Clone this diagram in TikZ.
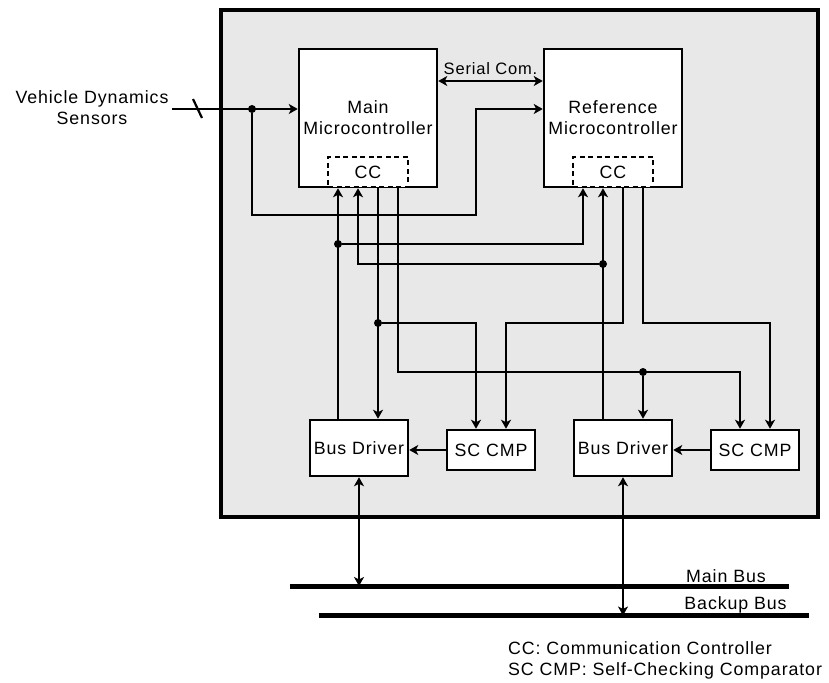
\documentclass[tikz,border=0pt]{standalone}
\usepackage{fontspec}
\setmainfont{Liberation Sans}[LetterSpace=5]
\usepackage{xcolor}
\usetikzlibrary{arrows.meta,calc}
\definecolor{ecugray}{HTML}{E8E8E8}

\begin{document}
\begin{tikzpicture}[x=1pt,y=1pt,font=\fontsize{17.8}{21}\selectfont,
  >={Stealth[length=9pt,width=10pt,inset=2.5pt]},
  box/.style={draw,line width=2.5pt,fill=white,align=center,inner sep=0pt},
  ccbox/.style={draw,dash pattern=on 5pt off 3.5pt,line width=2.2pt,fill=white,
    minimum width=80,minimum height=30,inner sep=0pt},
  link/.style={line width=2.2pt,->},
  both/.style={line width=2.2pt,<->},
  joint/.style={circle,fill,inner sep=0pt,minimum size=8pt},
  bus/.style={line width=5pt}]
\useasboundingbox (0,0) rectangle (829,-682);
% ECU housing
\node[draw,line width=4pt,fill=ecugray,minimum width=597,minimum height=507,inner sep=0pt] (ecu) at (519.5,-263.5) {};
% microcontrollers and their communication controllers
\node[box,minimum width=138,minimum height=138] (main) at (368,-118) {Main\\Microcontroller};
\node[box,minimum width=138,minimum height=138] (ref) at (613,-118) {Reference\\Microcontroller};
\node[ccbox,anchor=south] (ccm) at (main.south) {CC};
\node[ccbox,anchor=south] (ccr) at (ref.south) {CC};
% bus drivers and comparators
\node[box,minimum width=98,minimum height=56] (bd1) at (359,-448) {Bus Driver};
\node[box,minimum width=88,minimum height=40] (sc1) at (491,-450) {SC CMP};
\node[box,minimum width=98,minimum height=56] (bd2) at (623,-448) {Bus Driver};
\node[box,minimum width=88,minimum height=40] (sc2) at (755,-450) {SC CMP};
% ports
\coordinate (m1) at ($(ccm.south)+(-30,0)$);
\coordinate (m2) at ($(ccm.south)+(-10,0)$);
\coordinate (m3) at ($(ccm.south)+(10,0)$);
\coordinate (m4) at ($(ccm.south)+(30,0)$);
\coordinate (r1) at ($(ccr.south)+(-30,0)$);
\coordinate (r2) at ($(ccr.south)+(-10,0)$);
\coordinate (r3) at ($(ccr.south)+(10,0)$);
\coordinate (r4) at ($(ccr.south)+(30,0)$);
\coordinate (s1a) at ($(sc1.north)+(-15,0)$);
\coordinate (s1b) at ($(sc1.north)+(15,0)$);
\coordinate (s2a) at ($(sc2.north)+(-15,0)$);
\coordinate (s2b) at ($(sc2.north)+(15,0)$);
% sensor input
\node[align=center] (vds) at (92,-107.5) {Vehicle Dynamics\\Sensors};
\coordinate (vin) at (172,-109);
\node[joint] (j1) at (252,-109) {};
\draw[link] (vin) -- (main.west |- vin);
\draw[line width=2.2pt] (193,-99) -- (202,-118);
\coordinate (hop) at (476,-215);
\draw[link] (j1) |- (hop) |- (ref.west |- vin);
% serial link
\coordinate (ser) at (0,-81);
\draw[both] (main.east |- ser) -- node[above=2pt,font=\fontsize{16.5}{20}\selectfont] {Serial Com.} (ref.west |- ser);
% bus driver feedback to the CCs
\draw[link] (bd1.north -| m1) -- (m1);
\node[joint] (j2) at (m1 |- 0,-244) {};
\draw[link] (j2) -| (r1);
\draw[link] (bd2.north -| r2) -- (r2);
\node[joint] (j3) at (r2 |- 0,-264) {};
\draw[link] (j3) -| (m2);
% CC outputs
\draw[link] (m3) -- (m3 |- bd1.north);
\node[joint] (j4) at (m3 |- 0,-323) {};
\draw[link] (j4) -| (s1a);
\draw[link] (m4) |- (s2a |- 0,-372) -- (s2a);
\node[joint] (j5) at (r4 |- 0,-372) {};
\draw[link] (j5) -- (j5 |- bd2.north);
\draw[link] (r3) |- (s1b |- 0,-323) -- (s1b);
\draw[link] (r4) |- (s2b |- 0,-323) -- (s2b);
\draw[link] (sc1.west) -- (bd1.east |- sc1.west);
\draw[link] (sc2.west) -- (bd2.east |- sc2.west);
% buses
\coordinate (mb0) at (290,-586);
\coordinate (mb1) at (789,-586);
\coordinate (bb0) at (318.5,-615.5);
\coordinate (bb1) at (809,-615.5);
\draw[bus] (mb0) -- (mb1);
\draw[bus] (bb0) -- (bb1);
\node (mbl) at (726,-576) {Main Bus};
\node (bbl) at (735.5,-605) {Backup Bus};
\draw[both] (bd1.south) -- (bd1.south |- mb0);
\draw[both] (bd2.south) -- (bd2.south |- bb0);
% legend
\node[align=left,anchor=west,inner sep=0pt] (key) at (508,-660) {CC: Communication Controller\\SC CMP: Self-Checking Comparator};
\end{tikzpicture}
\end{document}
